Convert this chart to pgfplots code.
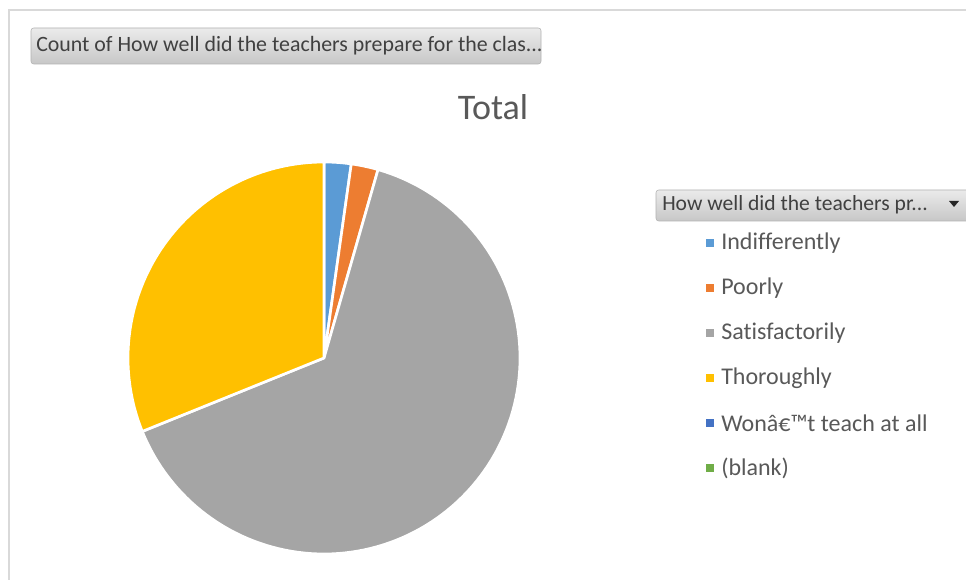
\documentclass[border=0pt]{standalone}
\usepackage{pgfplots}
\pgfplotsset{compat=1.18}
\usepackage{fontspec}
\setmainfont{Carlito}[Ligatures=NoCommon]
\definecolor{cA}{HTML}{5B9BD5}
\definecolor{cB}{HTML}{ED7D31}
\definecolor{cC}{HTML}{A5A5A5}
\definecolor{cD}{HTML}{FFC000}
\definecolor{cE}{HTML}{4472C4}
\definecolor{cF}{HTML}{70AD47}
\definecolor{txt}{HTML}{595959}
\definecolor{btxt}{HTML}{404040}
% counts per category
\def\nA{1}   % Indifferently
\def\nB{1}   % Poorly
\def\nC{29}  % Satisfactorily
\def\nD{14}  % Thoroughly
\def\nE{0}   % Won't teach at all
\def\nF{0}   % (blank)
\begin{document}
\begin{tikzpicture}[x=0.75pt,y=-0.75pt]
\useasboundingbox (0,0) rectangle (966,580);
\fill[white] (0,0) rectangle (966,580);
\draw[black!15, line width=1.5pt] (9,585) -- (9,10) -- (970,10);
% field button top left
\shadedraw[top color=black!8, bottom color=black!22, draw=black!30, rounded corners=2pt] (31,28) rectangle (541,64);
\node[anchor=west, inner sep=0pt, text=btxt, font=\fontsize{16.4}{19}\selectfont] at (36,46) {Count of How well did the teachers prepare for the clas...};
% title
\node[text=txt, font=\fontsize{27}{31}\selectfont] at (493,107) {Total};
% legend field button
\shadedraw[top color=black!8, bottom color=black!22, draw=black!30, rounded corners=2pt] (656,190) rectangle (980,221);
\node[anchor=west, inner sep=0pt, text=btxt, font=\fontsize{16.2}{19}\selectfont] at (662,205) {How well did the teachers pr...};
\fill[black!85] (949,201) -- (959,201) -- (954,207) -- cycle;
% legend entries
\foreach \c/\lab [count=\i from 0] in {cA/Indifferently, cB/Poorly, cC/Satisfactorily, cD/Thoroughly, cE/Wonâ€™t teach at all, cF/(blank)}{
  \fill[\c] (706,{239+45*\i}) rectangle (714,{247+45*\i});
  \node[anchor=west, inner sep=0pt, text=txt, font=\fontsize{18}{22}\selectfont] at (721,{243+45*\i}) {\lab};
}
\pgfmathsetmacro{\tot}{\nA+\nB+\nC+\nD+\nE+\nF}
\pgfmathsetmacro{\aA}{0}
\pgfmathsetmacro{\aB}{\aA+360*\nA/\tot}
\pgfmathsetmacro{\aC}{\aB+360*\nB/\tot}
\pgfmathsetmacro{\aD}{\aC+360*\nC/\tot}
\pgfmathsetmacro{\aE}{\aD+360*\nD/\tot}
\begin{axis}[at={(243pt,-268.5pt)}, anchor=center, hide axis, scale only axis,
  width=294pt, height=294pt, xmin=-1, xmax=1, ymin=-1, ymax=1, clip=false]
\addplot[fill=cA, draw=white, line width=2pt, line join=round, domain=\aA:\aB, samples=20, variable=\t] ({sin(\t)},{cos(\t)}) -- (axis cs:0,0) -- cycle;
\addplot[fill=cB, draw=white, line width=2pt, line join=round, domain=\aB:\aC, samples=20, variable=\t] ({sin(\t)},{cos(\t)}) -- (axis cs:0,0) -- cycle;
\addplot[fill=cC, draw=white, line width=2pt, line join=round, domain=\aC:\aD, samples=120, variable=\t] ({sin(\t)},{cos(\t)}) -- (axis cs:0,0) -- cycle;
\addplot[fill=cD, draw=white, line width=2pt, line join=round, domain=\aD:\aE, samples=80, variable=\t] ({sin(\t)},{cos(\t)}) -- (axis cs:0,0) -- cycle;
\end{axis}
\end{tikzpicture}
\end{document}
